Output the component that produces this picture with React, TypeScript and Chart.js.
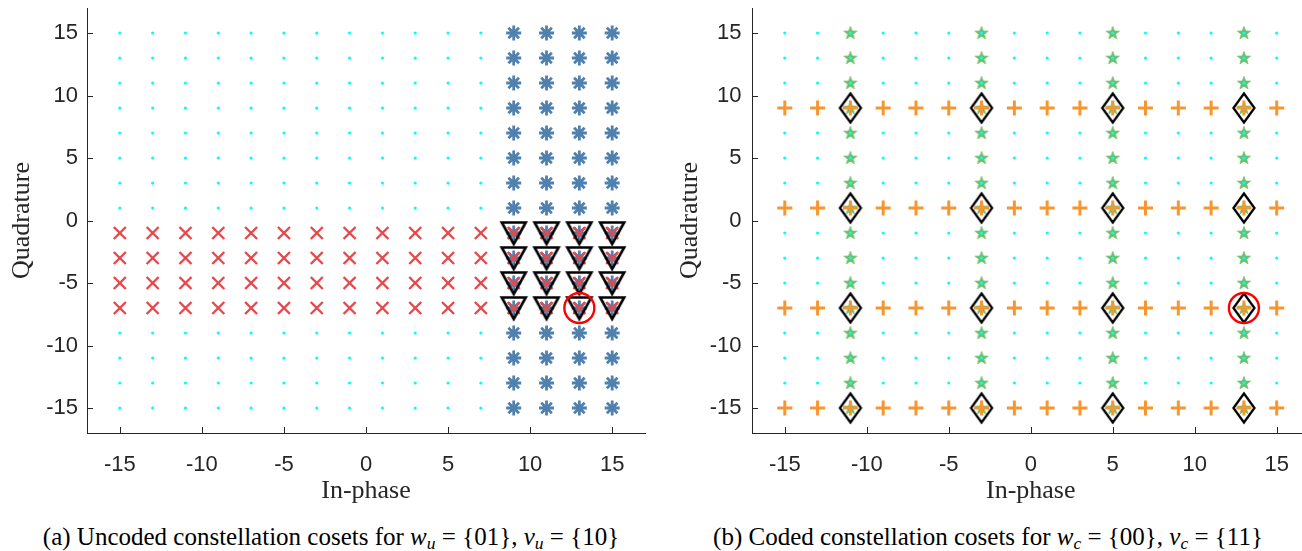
import React, { useEffect, useRef } from 'react';
import { Chart, registerables } from 'chart.js';

Chart.register(...registerables);

// ---- data ----
const LEVELS = [-15, -13, -11, -9, -7, -5, -3, -1, 1, 3, 5, 7, 9, 11, 13, 15];
const X_TICKS = [-15, -10, -5, 0, 5, 10, 15];
const Y_TICKS = [-15, -10, -5, 0, 5, 10, 15];
const AXIS_MIN = -17;
const AXIS_MAX = 17;

// (a) uncoded
const UNCODED_W_COLUMNS = [9, 11, 13, 15]; // in-phase values of the w_u coset (asterisks)
const UNCODED_V_ROWS = [-1, -3, -5, -7]; // quadrature values of the v_u coset (crosses)
const UNCODED_TARGET = [13, -7];

// (b) coded
const CODED_W_COLUMNS = [-11, -3, 5, 13]; // in-phase values of the w_c coset (stars)
const CODED_V_ROWS = [9, 1, -7, -15]; // quadrature values of the v_c coset (plus)
const CODED_TARGET = [13, -7];

// ---- styles ----
const CYAN = '#00ffff';
const BLUE = '#4f80ae';
const RED_X = '#e8484b';
const ORANGE = '#f7962f';
const GREEN = '#6cbf6a';
const CIRCLE_RED = '#ff0000';
const AXIS_COLOR = '#262626';

type Pt = { x: number; y: number };

const allPoints = (): Pt[] => {
  const out: Pt[] = [];
  for (const x of LEVELS) for (const y of LEVELS) out.push({ x, y });
  return out;
};
const columnPoints = (cols: number[]): Pt[] => {
  const out: Pt[] = [];
  for (const x of cols) for (const y of LEVELS) out.push({ x, y });
  return out;
};
const rowPoints = (rows: number[]): Pt[] => {
  const out: Pt[] = [];
  for (const y of rows) for (const x of LEVELS) out.push({ x, y });
  return out;
};
const crossPoints = (cols: number[], rows: number[]): Pt[] => {
  const out: Pt[] = [];
  for (const x of cols) for (const y of rows) out.push({ x, y });
  return out;
};

function makeCanvas(w: number, h: number, draw: (ctx: CanvasRenderingContext2D) => void) {
  const c = document.createElement('canvas');
  c.width = w;
  c.height = h;
  const ctx = c.getContext('2d') as CanvasRenderingContext2D;
  draw(ctx);
  return c;
}

const triangleDown = () =>
  makeCanvas(30, 28, (ctx) => {
    ctx.strokeStyle = '#000';
    ctx.lineWidth = 2.6;
    ctx.lineJoin = 'miter';
    ctx.beginPath();
    ctx.moveTo(3, 3.5);
    ctx.lineTo(27, 3.5);
    ctx.lineTo(15, 25);
    ctx.closePath();
    ctx.stroke();
  });

const diamond = () =>
  makeCanvas(26, 34, (ctx) => {
    ctx.strokeStyle = '#000';
    ctx.lineWidth = 2.3;
    ctx.lineJoin = 'miter';
    ctx.beginPath();
    ctx.moveTo(13, 2.5);
    ctx.lineTo(23.5, 17);
    ctx.lineTo(13, 31.5);
    ctx.lineTo(2.5, 17);
    ctx.closePath();
    ctx.stroke();
  });

const pentagram = () =>
  makeCanvas(16, 16, (ctx) => {
    const cx = 8;
    const cy = 8.3;
    const R = 6.9;
    const r = 2.8;
    ctx.beginPath();
    for (let i = 0; i < 10; i++) {
      const rad = (Math.PI / 5) * i - Math.PI / 2;
      const rr = i % 2 === 0 ? R : r;
      const px = cx + Math.cos(rad) * rr;
      const py = cy + Math.sin(rad) * rr;
      if (i === 0) ctx.moveTo(px, py);
      else ctx.lineTo(px, py);
    }
    ctx.closePath();
    ctx.fillStyle = GREEN;
    ctx.fill();
    ctx.strokeStyle = GREEN;
    ctx.lineWidth = 0.8;
    ctx.stroke();
  });

const inwardTicks = {
  id: 'inwardTicks',
  afterDraw(chart: any) {
    const { ctx, chartArea, scales } = chart;
    ctx.save();
    ctx.strokeStyle = AXIS_COLOR;
    ctx.lineWidth = 1;
    ctx.beginPath();
    for (const v of X_TICKS) {
      const px = Math.round(scales.x.getPixelForValue(v)) + 0.5;
      ctx.moveTo(px, chartArea.bottom);
      ctx.lineTo(px, chartArea.bottom - 6);
    }
    for (const v of Y_TICKS) {
      const py = Math.round(scales.y.getPixelForValue(v)) + 0.5;
      ctx.moveTo(chartArea.left, py);
      ctx.lineTo(chartArea.left + 6, py);
    }
    ctx.stroke();
    ctx.restore();
  },
};

function buildOptions(yAxisWidth: number, xAxisHeight: number, padRight: number, yTickPad: number, yTitlePad: number) {
  return {
    animation: false,
    responsive: false,
    maintainAspectRatio: false,
    events: [],
    layout: { autoPadding: false, padding: { left: 0, top: 8, right: padRight, bottom: 0 } },
    plugins: { legend: { display: false }, tooltip: { enabled: false } },
    scales: {
      x: {
        type: 'linear',
        min: AXIS_MIN,
        max: AXIS_MAX,
        afterBuildTicks: (s: any) => {
          s.ticks = X_TICKS.map((v) => ({ value: v }));
        },
        afterFit: (s: any) => {
          s.height = xAxisHeight;
          s.paddingLeft = 0;
          s.paddingRight = 0;
        },
        grid: { display: false, drawTicks: false },
        border: { display: true, color: AXIS_COLOR, width: 1 },
        ticks: {
          color: AXIS_COLOR,
          font: { family: 'Liberation Sans', size: 22 },
          padding: 19,
          maxRotation: 0,
          autoSkip: false,
          callback: (v: any) => String(v),
        },
        title: {
          display: true,
          text: 'In-phase',
          color: AXIS_COLOR,
          font: { family: 'Liberation Serif', size: 26 },
          padding: { top: 0, bottom: 3 },
        },
      },
      y: {
        type: 'linear',
        min: AXIS_MIN,
        max: AXIS_MAX,
        afterBuildTicks: (s: any) => {
          s.ticks = Y_TICKS.map((v) => ({ value: v }));
        },
        afterFit: (s: any) => {
          s.width = yAxisWidth;
          s.paddingTop = 0;
          s.paddingBottom = 0;
        },
        grid: { display: false, drawTicks: false },
        border: { display: true, color: AXIS_COLOR, width: 1 },
        ticks: {
          color: AXIS_COLOR,
          font: { family: 'Liberation Sans', size: 22 },
          padding: yTickPad,
          autoSkip: false,
          callback: (v: any) => String(v),
        },
        title: {
          display: true,
          text: 'Quadrature',
          color: AXIS_COLOR,
          font: { family: 'Liberation Serif', size: 26 },
          padding: { top: yTitlePad, bottom: 0 },
        },
      },
    },
  } as any;
}

const cyanDataset = (order: number) => ({
  data: allPoints(),
  pointStyle: 'circle',
  pointRadius: 1.6,
  pointBackgroundColor: CYAN,
  pointBorderColor: CYAN,
  pointBorderWidth: 0,
  showLine: false,
  order,
});

const circleDataset = (target: number[]) => ({
  data: [{ x: target[0], y: target[1] }],
  pointStyle: 'circle',
  pointRadius: 15,
  pointBackgroundColor: 'rgba(0,0,0,0)',
  pointBorderColor: CIRCLE_RED,
  pointBorderWidth: 2.4,
  showLine: false,
  order: 0,
});

export default function App() {
  const leftRef = useRef<HTMLCanvasElement>(null);
  const rightRef = useRef<HTMLCanvasElement>(null);

  useEffect(() => {
    const tri = triangleDown();
    const dia = diamond();
    const star = pentagram();

    const left = new Chart(leftRef.current as HTMLCanvasElement, {
      type: 'scatter',
      data: {
        datasets: [
          cyanDataset(4),
          {
            data: columnPoints(UNCODED_W_COLUMNS),
            pointStyle: 'star',
            pointRadius: 7.5,
            pointBorderColor: BLUE,
            pointBackgroundColor: BLUE,
            pointBorderWidth: 2.8,
            showLine: false,
            order: 3,
          },
          {
            data: rowPoints(UNCODED_V_ROWS),
            pointStyle: 'crossRot',
            pointRadius: 8.5,
            pointBorderColor: RED_X,
            pointBackgroundColor: RED_X,
            pointBorderWidth: 2.4,
            showLine: false,
            order: 2,
          },
          {
            data: crossPoints(UNCODED_W_COLUMNS, UNCODED_V_ROWS),
            pointStyle: tri,
            pointRadius: 12,
            showLine: false,
            order: 1,
          },
          circleDataset(UNCODED_TARGET),
        ],
      } as any,
      options: buildOptions(87, 77, 6, 9, 7),
      plugins: [inwardTicks],
    });

    const right = new Chart(rightRef.current as HTMLCanvasElement, {
      type: 'scatter',
      data: {
        datasets: [
          {
            data: columnPoints(CODED_W_COLUMNS),
            pointStyle: star,
            pointRadius: 7,
            showLine: false,
            order: 4,
          },
          cyanDataset(3),
          {
            data: rowPoints(CODED_V_ROWS),
            pointStyle: 'cross',
            pointRadius: 7.5,
            pointBorderColor: ORANGE,
            pointBackgroundColor: ORANGE,
            pointBorderWidth: 3,
            showLine: false,
            order: 2,
          },
          {
            data: crossPoints(CODED_W_COLUMNS, CODED_V_ROWS),
            pointStyle: dia,
            pointRadius: 12,
            showLine: false,
            order: 1,
          },
          circleDataset(CODED_TARGET),
        ],
      } as any,
      options: buildOptions(101, 77, 6.5, 10.5, 24),
      plugins: [inwardTicks],
    });

    return () => {
      left.destroy();
      right.destroy();
    };
  }, []);

  const captionStyle: React.CSSProperties = {
    position: 'absolute',
    top: 524,
    width: 800,
    textAlign: 'center',
    fontFamily: '"Liberation Serif", serif',
    fontSize: 25,
    lineHeight: '25px',
    color: '#000',
    whiteSpace: 'nowrap',
  };
  const subStyle: React.CSSProperties = { fontSize: '0.7em', verticalAlign: '-0.25em', lineHeight: 0 };

  return (
    <div
      style={{
        position: 'absolute',
        left: 0,
        top: 0,
        width: 1302,
        height: 551,
        overflow: 'hidden',
        background: '#fff',
      }}
    >
      <canvas
        ref={leftRef}
        width={651}
        height={510}
        style={{ position: 'absolute', left: 0, top: 0, width: 651, height: 510 }}
      />
      <canvas
        ref={rightRef}
        width={665}
        height={510}
        style={{ position: 'absolute', left: 651, top: 0, width: 665, height: 510 }}
      />
      <div style={{ ...captionStyle, left: 331 - 400 }}>
        (a) Uncoded constellation cosets for <i>w</i>
        <sub style={subStyle}><i>u</i></sub> = {'{'}01{'}'}, <i>v</i>
        <sub style={subStyle}><i>u</i></sub> = {'{'}10{'}'}
      </div>
      <div style={{ ...captionStyle, left: 988 - 400 }}>
        (b) Coded constellation cosets for <i>w</i>
        <sub style={subStyle}><i>c</i></sub> = {'{'}00{'}'}, <i>v</i>
        <sub style={subStyle}><i>c</i></sub> = {'{'}11{'}'}
      </div>
    </div>
  );
}
